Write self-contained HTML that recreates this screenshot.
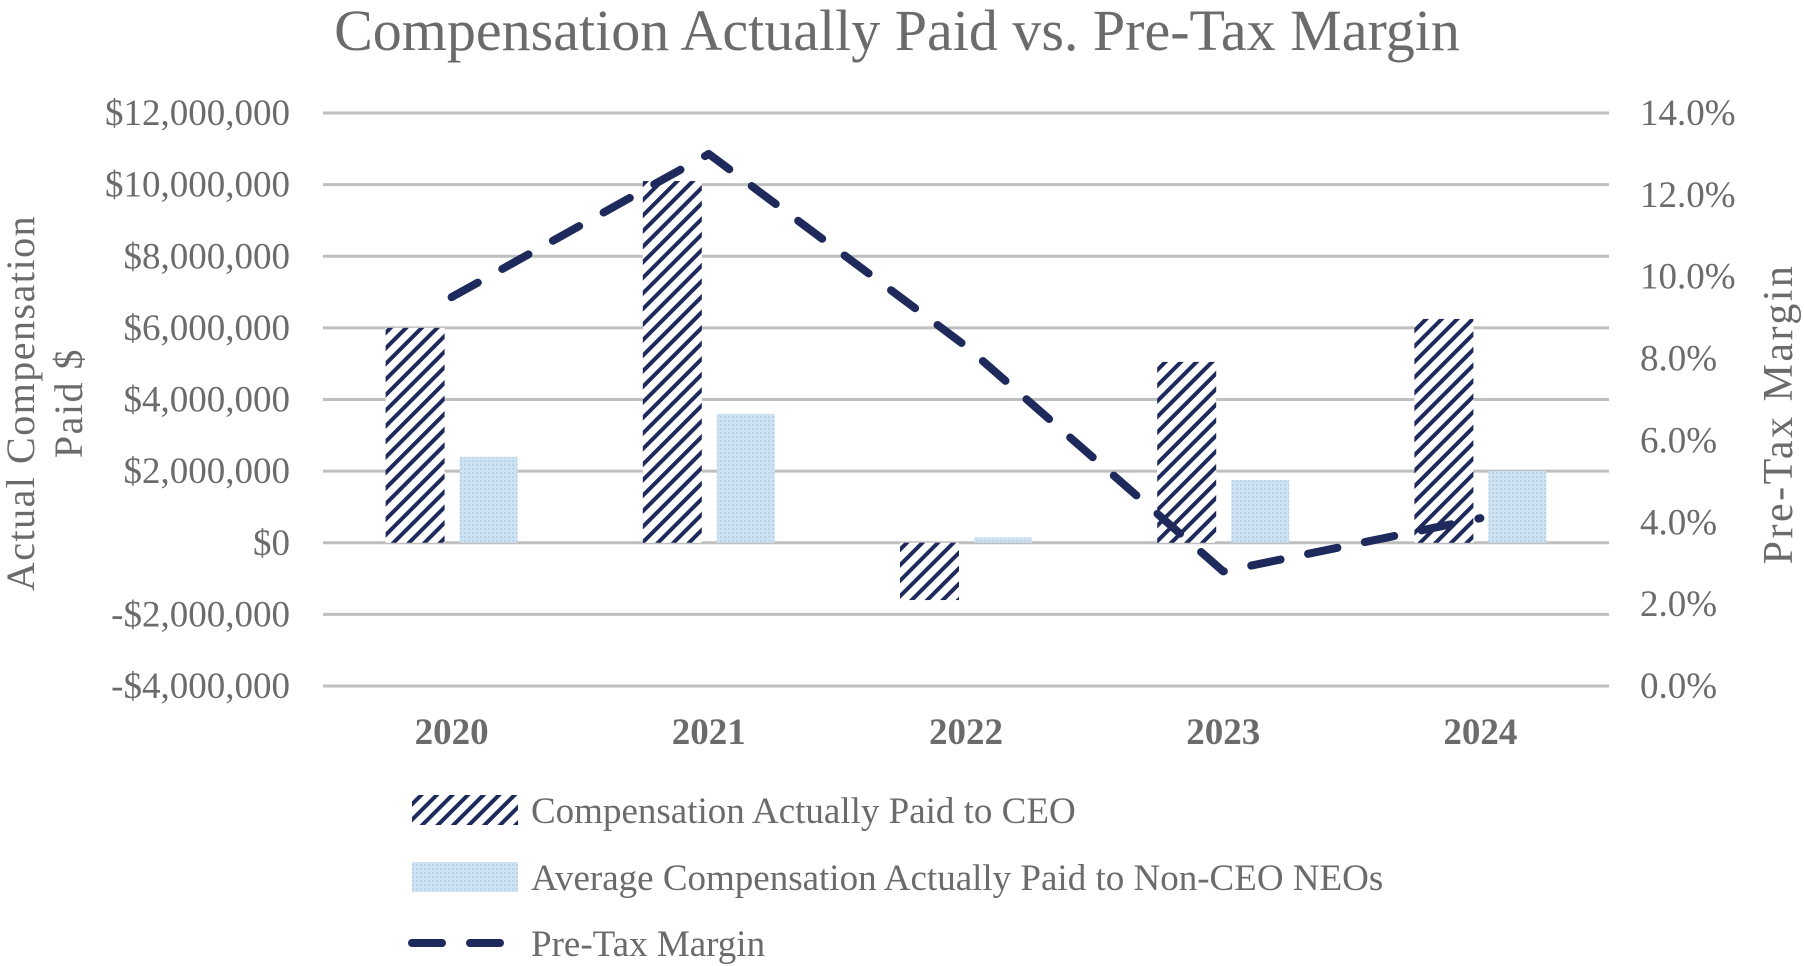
<!DOCTYPE html>
<html><head><meta charset="utf-8"><style>
html,body{margin:0;padding:0;background:#fff;}
svg{display:block;font-family:"Liberation Serif",serif;}
</style></head><body>
<svg id="chart" width="1804" height="966" viewBox="0 0 1804 966">
<defs>
<pattern id="hatch" patternUnits="userSpaceOnUse" width="11" height="11" patternTransform="rotate(45)">
<rect width="11" height="11" fill="#fff"/>
<rect x="0" y="0" width="4" height="11" fill="#1f2a5c"/>
</pattern>
<pattern id="dots" patternUnits="userSpaceOnUse" width="4" height="4">
<rect width="4" height="4" fill="#cfe2f2"/>
<rect width="2" height="2" fill="#b8d3ea"/>
</pattern>
</defs>
<text x="897" y="50" text-anchor="middle" font-size="58" fill="#6b6b6b">Compensation Actually Paid vs. Pre-Tax Margin</text>
<g id="grid"></g>
<g id="bars"></g>
<g id="line"></g>
<g id="labels"></g>
<text transform="translate(34,403) rotate(-90)" text-anchor="middle" font-size="40" letter-spacing="1.5" fill="#6b6b6b">Actual Compensation</text>
<text transform="translate(82,403) rotate(-90)" text-anchor="middle" font-size="40" letter-spacing="1.5" fill="#6b6b6b">Paid $</text>
<text transform="translate(1792,414) rotate(-90)" text-anchor="middle" font-size="42" letter-spacing="2.5" fill="#6b6b6b">Pre-Tax Margin</text>
<g>
<rect x="412" y="795" width="106" height="30" fill="url(#hatch)"/>
<text x="531" y="823" font-size="37" fill="#6b6b6b">Compensation Actually Paid to CEO</text>
<rect x="412" y="862" width="106" height="30" fill="url(#dots)"/>
<text x="531" y="890" font-size="37" fill="#6b6b6b">Average Compensation Actually Paid to Non-CEO NEOs</text>
<line x1="412" y1="943" x2="518" y2="943" stroke="#1f2a5c" stroke-width="8" stroke-linecap="round" stroke-dasharray="30 28"/>
<text x="531" y="956" font-size="37" fill="#6b6b6b">Pre-Tax Margin</text>
</g>
</svg>
<script>
const years = ["2020","2021","2022","2023","2024"];
const ceoValues = [6000000, 10100000, -1600000, 5050000, 6250000];
const neoValues = [2400000, 3600000, 150000, 1750000, 2000000];
const marginValues = [9.5, 13.0, 8.3, 2.8, 4.1];
const leftTicks = [-4000000,-2000000,0,2000000,4000000,6000000,8000000,10000000,12000000];
const leftTickLabels = ["-$4,000,000","-$2,000,000","$0","$2,000,000","$4,000,000","$6,000,000","$8,000,000","$10,000,000","$12,000,000"];
const rightTicks = [0,2,4,6,8,10,12,14];
const rightTickLabels = ["0.0%","2.0%","4.0%","6.0%","8.0%","10.0%","12.0%","14.0%"];

const NS="http://www.w3.org/2000/svg";
const X0=323, X1=1609, YTOP=113, YBOT=686;
const yL = v => YBOT - (v - (-4000000)) / 16000000 * (YBOT-YTOP);
const yR = v => YBOT - v / 14 * (YBOT-YTOP);
const band = (X1-X0)/years.length;
const xC = i => X0 + band*(i+0.5);
function mk(tag, attrs, parent){const e=document.createElementNS(NS,tag);for(const k in attrs)e.setAttribute(k,attrs[k]);document.getElementById(parent).appendChild(e);return e;}

leftTicks.forEach((t,i)=>{
  const g=mk('line',{x1:X0,x2:X1,y1:yL(t),y2:yL(t),stroke:'#bfbfbf','stroke-width':3},'grid');
  
  
  const l=mk('text',{x:290,y:yL(t)+12,'text-anchor':'end','font-size':37,fill:'#6b6b6b'},'labels');
  l.textContent=leftTickLabels[i];
  
  
});
rightTicks.forEach((t,i)=>{
  const l=mk('text',{x:1640,y:yR(t)+12,'font-size':37,fill:'#6b6b6b'},'labels');
  l.textContent=rightTickLabels[i];
  
  
});
years.forEach((yr,i)=>{
  const c=xC(i);
  const v=ceoValues[i], y0=yL(0), y1=yL(v);
  const b=mk('rect',{x:c-66,y:Math.min(y0,y1),width:59,height:Math.abs(y1-y0),fill:'url(#hatch)'},'bars');
  
  
  const w=neoValues[i], y2=yL(w);
  const n=mk('rect',{x:c+8,y:Math.min(y0,y2),width:58,height:Math.abs(y2-y0),fill:'url(#dots)'},'bars');
  
  
  const l=mk('text',{x:c,y:744,'text-anchor':'middle','font-size':37,'font-weight':'bold',fill:'#6b6b6b'},'labels');
  l.textContent=yr;
  
  
});
const pts=marginValues.map((m,i)=>xC(i)+','+yR(m)).join(' ');
const pl=mk('polyline',{points:pts,fill:'none',stroke:'#1f2a5c','stroke-width':8,'stroke-linecap':'round','stroke-linejoin':'round','stroke-dasharray':'30 28'},'line');


</script>
</body></html>
